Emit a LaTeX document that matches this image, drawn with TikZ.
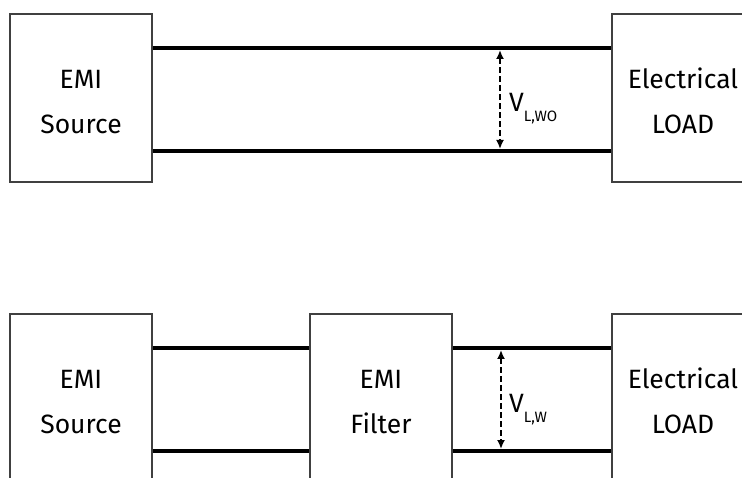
\documentclass[tikz,border=0pt]{standalone}
\usepackage{fontspec}
\setmainfont{Fira Sans}
\usetikzlibrary{arrows.meta}

\newcommand{\vload}[1]{V\raisebox{-10pt}{\fontsize{15}{15}\selectfont #1}}
\newcommand{\lift}{\rule{0pt}{26pt}}

\begin{document}
\begin{tikzpicture}[x=1pt, y=-1pt, >=Latex,
  block/.style={draw=black!75, line width=1.2pt, fill=white,
    minimum width=142pt, minimum height=168pt, align=center,
    font=\fontsize{26.5}{45}\selectfont},
  wire/.style={line width=3.5pt},
  volt/.style={{Latex[length=9pt,width=8pt]}-{Latex[length=9pt,width=8pt]},
    line width=2pt, dash pattern=on 6pt off 3pt},
  vlabel/.style={anchor=base west, inner sep=0pt, font=\fontsize{26.5}{26.5}\selectfont}]
  \useasboundingbox (0,0) rectangle (742,478);
  \clip (0,0) rectangle (742,478);

  % without filter
  \node[block] (srcA) at (81,98) {\lift EMI\\Source};
  \node[block] (loadA) at (683,98) {\lift Electrical\\LOAD};
  \foreach \y in {48,151} {
    \draw[wire] (srcA.east |- 0,\y) -- (loadA.west |- 0,\y);
  }
  \coordinate (vAtop) at (500,50);
  \coordinate (vAbot) at (500,149);
  \draw[volt] (vAtop) -- (vAbot);
  \node[vlabel] (vwo) at (509,112) {\vload{L,WO}};

  % with filter
  \node[block] (srcB) at (81,398) {\lift EMI\\Source};
  \node[block] (filtB) at (381,398) {\lift EMI\\Filter};
  \node[block] (loadB) at (683,398) {\lift Electrical\\LOAD};
  \foreach \y in {348,451} {
    \draw[wire] (srcB.east |- 0,\y) -- (filtB.west |- 0,\y);
    \draw[wire] (filtB.east |- 0,\y) -- (loadB.west |- 0,\y);
  }
  \coordinate (vBtop) at (501,350);
  \coordinate (vBbot) at (501,449);
  \draw[volt] (vBtop) -- (vBbot);
  \node[vlabel] (vw) at (509,412) {\vload{L,W}};
\end{tikzpicture}
\end{document}
